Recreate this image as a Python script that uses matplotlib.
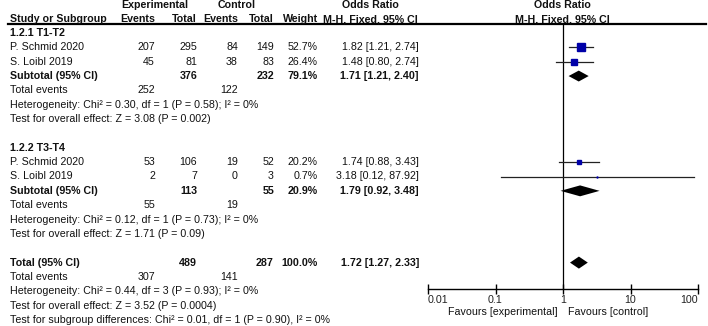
"""Forest plot: odds ratio by T stage subgroup (M-H, fixed, 95% CI)."""

import matplotlib

matplotlib.use("Agg")
import matplotlib.pyplot as plt  # noqa: E402

plt.rcParams["font.family"] = ["Liberation Sans", "DejaVu Sans"]

# --- data -----------------------------------------------------------------
GROUPS = ["1.2.1 T1-T2", "1.2.2 T3-T4"]
STUDIES = [["P. Schmid 2020", "S. Loibl 2019"], ["P. Schmid 2020", "S. Loibl 2019"]]
EXP_EVENTS = [[207, 45], [53, 2]]
EXP_TOTAL = [[295, 81], [106, 7]]
CTL_EVENTS = [[84, 38], [19, 0]]
CTL_TOTAL = [[149, 83], [52, 3]]
WEIGHT = [[52.7, 26.4], [20.2, 0.7]]
OR_EST = [[1.82, 1.48], [1.74, 3.18]]
OR_LO = [[1.21, 0.80], [0.88, 0.12]]
OR_HI = [[2.74, 2.74], [3.43, 87.92]]

SUB_EXP_TOTAL = [376, 113]
SUB_CTL_TOTAL = [232, 55]
SUB_EXP_EVENTS = [252, 55]
SUB_CTL_EVENTS = [122, 19]
SUB_WEIGHT = [79.1, 20.9]
SUB_OR = [1.71, 1.79]
SUB_LO = [1.21, 0.92]
SUB_HI = [2.40, 3.48]
SUB_HET = ["Chi² = 0.30, df = 1 (P = 0.58); I² = 0%", "Chi² = 0.12, df = 1 (P = 0.73); I² = 0%"]
SUB_Z = ["Z = 3.08 (P = 0.002)", "Z = 1.71 (P = 0.09)"]

TOT_EXP_TOTAL, TOT_CTL_TOTAL = 489, 287
TOT_EXP_EVENTS, TOT_CTL_EVENTS = 307, 141
TOT_OR, TOT_LO, TOT_HI = 1.72, 1.27, 2.33
TOT_HET = "Chi² = 0.44, df = 3 (P = 0.93); I² = 0%"
TOT_Z = "Z = 3.52 (P = 0.0004)"
SUBGROUP_DIFF = "Chi² = 0.01, df = 1 (P = 0.90), I² = 0%"

XTICKS = [0.01, 0.1, 1, 10, 100]
XTICKLABELS = ["0.01", "0.1", "1", "10", "100"]

# --- layout ---------------------------------------------------------------
W, H = 708, 326
ROW0, DY = 33, 14.35  # pixel y of row 0, pixel spacing between rows
FS = 7.7
BLUE = "#0000A8"
X_NAME, X_EE, X_ET, X_CE, X_CT, X_W, X_OR = 10, 155, 197, 238, 274, 318, 419


def row_of(py):
    return (py - ROW0) / DY


fig = plt.figure(figsize=(W / 100, H / 100), dpi=100)
ax_t = fig.add_axes([0, 0, 1, 1])
ax_t.set_xlim(0, W)
ax_t.set_ylim(row_of(H), row_of(0))
ax_t.axis("off")

fx0, fx1, fy0, fy1 = 428, 698, 24, 289
ax_f = fig.add_axes([fx0 / W, (H - fy1) / H, (fx1 - fx0) / W, (fy1 - fy0) / H])
ax_f.set_xscale("log")
ax_f.set_xlim(0.01, 100)
ax_f.set_ylim(row_of(fy1), row_of(fy0))
ax_f.patch.set_alpha(0)
for s in ("top", "left", "right"):
    ax_f.spines[s].set_visible(False)
ax_f.spines["bottom"].set_linewidth(1.0)
ax_f.set_yticks([])
ax_f.set_xticks(XTICKS)
ax_f.set_xticklabels(XTICKLABELS, fontsize=FS, color="#222")
ax_f.xaxis.set_minor_locator(matplotlib.ticker.NullLocator())
ax_f.tick_params(axis="x", direction="inout", length=7, width=1, pad=0.5)
labs = ax_f.get_xticklabels()
labs[0].set_ha("left")
labs[-1].set_ha("right")
ax_f.axvline(1, color="black", lw=0.9)


def txt(x, r, s, ha="right", bold=False):
    ax_t.text(x, r, s, ha=ha, va="center", fontsize=FS, color="#111",
              fontweight="bold" if bold else "normal")


def diamond(r, est, lo, hi, h=0.38):
    ax_f.fill([lo, est, hi, est], [r, r - h, r, r + h], color="black", lw=0)


# header
hr1, hr2 = row_of(5), row_of(19)
txt(155, hr1, "Experimental", ha="center", bold=True)
txt(237, hr1, "Control", ha="center", bold=True)
txt(370, hr1, "Odds Ratio", ha="center", bold=True)
txt(562, hr1, "Odds Ratio", ha="center", bold=True)
txt(X_NAME, hr2, "Study or Subgroup", ha="left", bold=True)
txt(X_EE, hr2, "Events", bold=True)
txt(X_ET, hr2, "Total", bold=True)
txt(X_CE, hr2, "Events", bold=True)
txt(X_CT, hr2, "Total", bold=True)
txt(X_W, hr2, "Weight", bold=True)
txt(370, hr2, "M-H, Fixed, 95% CI", ha="center", bold=True)
txt(562, hr2, "M-H, Fixed, 95% CI", ha="center", bold=True)
ax_t.plot([8, 706], [row_of(24)] * 2, color="black", lw=1.6)

for g, name in enumerate(GROUPS):
    r0 = 8 * g
    txt(X_NAME, r0, name, ha="left", bold=True)
    for i, study in enumerate(STUDIES[g]):
        r = r0 + 1 + i
        txt(X_NAME, r, study, ha="left")
        txt(X_EE, r, str(EXP_EVENTS[g][i]))
        txt(X_ET, r, str(EXP_TOTAL[g][i]))
        txt(X_CE, r, str(CTL_EVENTS[g][i]))
        txt(X_CT, r, str(CTL_TOTAL[g][i]))
        txt(X_W, r, f"{WEIGHT[g][i]:.1f}%")
        txt(X_OR, r, f"{OR_EST[g][i]:.2f} [{OR_LO[g][i]:.2f}, {OR_HI[g][i]:.2f}]")
        ax_f.plot([OR_LO[g][i], OR_HI[g][i]], [r, r], color="#222", lw=0.9)
        ax_f.plot(OR_EST[g][i], r, marker="s", color=BLUE, lw=0,
                  markersize=0.79 * WEIGHT[g][i] ** 0.5)
    r = r0 + 3
    txt(X_NAME, r, "Subtotal (95% CI)", ha="left", bold=True)
    txt(X_ET, r, str(SUB_EXP_TOTAL[g]), bold=True)
    txt(X_CT, r, str(SUB_CTL_TOTAL[g]), bold=True)
    txt(X_W, r, f"{SUB_WEIGHT[g]:.1f}%", bold=True)
    txt(X_OR, r, f"{SUB_OR[g]:.2f} [{SUB_LO[g]:.2f}, {SUB_HI[g]:.2f}]", bold=True)
    diamond(r, SUB_OR[g], SUB_LO[g], SUB_HI[g])
    txt(X_NAME, r0 + 4, "Total events", ha="left")
    txt(X_EE, r0 + 4, str(SUB_EXP_EVENTS[g]))
    txt(X_CE, r0 + 4, str(SUB_CTL_EVENTS[g]))
    txt(X_NAME, r0 + 5, "Heterogeneity: " + SUB_HET[g], ha="left")
    txt(X_NAME, r0 + 6, "Test for overall effect: " + SUB_Z[g], ha="left")

r = 16
txt(X_NAME, r, "Total (95% CI)", ha="left", bold=True)
txt(X_ET, r, str(TOT_EXP_TOTAL), bold=True)
txt(X_CT, r, str(TOT_CTL_TOTAL), bold=True)
txt(X_W, r, "100.0%", bold=True)
txt(X_OR, r, f"{TOT_OR:.2f} [{TOT_LO:.2f}, {TOT_HI:.2f}]", bold=True)
diamond(r, TOT_OR, TOT_LO, TOT_HI, h=0.42)
txt(X_NAME, 17, "Total events", ha="left")
txt(X_EE, 17, str(TOT_EXP_EVENTS))
txt(X_CE, 17, str(TOT_CTL_EVENTS))
txt(X_NAME, 18, "Heterogeneity: " + TOT_HET, ha="left")
txt(X_NAME, 19, "Test for overall effect: " + TOT_Z, ha="left")
txt(X_NAME, 20, "Test for subgroup differences: " + SUBGROUP_DIFF, ha="left")

fav = row_of(312)
txt(558, fav, "Favours [experimental]", ha="right")
txt(568, fav, "Favours [control]", ha="left")

fig.savefig("out.png", dpi=100, facecolor="white")
